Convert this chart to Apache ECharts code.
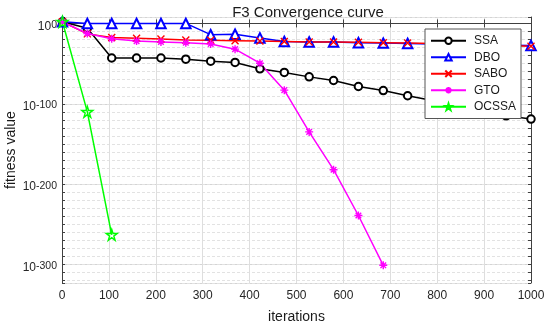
<!DOCTYPE html>
<html>
<head>
<meta charset="utf-8">
<script src="https://cdn.jsdelivr.net/npm/echarts@6/dist/echarts.min.js"></script>
<style>
html,body{margin:0;padding:0;background:#fff;}
#chart{width:550px;height:328px;}
</style>
</head>
<body>
<div id="chart"></div>
<script>
// iteration at which each marker/point is plotted
var iterations = [1, 54, 106, 159, 211, 264, 317, 369, 422, 474, 527, 579, 632, 685, 737, 790, 842, 895, 947, 1000];
// log10 of fitness value
var ssaLog10   = [2, -6, -43, -43, -43, -44.5, -47, -48.5, -56.5, -61, -66.5, -71, -78.5, -83.5, -90, -96, -102, -109, -115, -119];
var dboLog10   = [2, 0, 0, 0, 0, 0, -14, -13.5, -18, -22.5, -23, -23, -24, -24.5, -25, -25.5, -26, -26.5, -27, -27.5];
var saboLog10  = [2, -13, -17.5, -18.5, -19.5, -20.5, -21, -21.5, -22, -22.5, -23, -23, -23.5, -24, -24.5, -25, -26, -26.5, -27.5, -28.5];
var gtoLog10   = [2, -12.5, -19, -22, -23, -24, -25.5, -32, -49.5, -83, -135, -182, -239, -301];
var ocssaLog10 = [2, -110, -263];
var seriesNames = ['SSA', 'DBO', 'SABO', 'GTO', 'OCSSA'];
var xTicks = [0, 100, 200, 300, 400, 500, 600, 700, 800, 900, 1000];
var yMajorExponents = [-300, -200, -100, 0];

function pairs(vals) {
  return vals.map(function (v, i) { return [iterations[i], v]; });
}

var pathCross = 'path://M0,0L10,10M10,0L0,10';
var pathAsterisk = 'path://M5,0L5,10M0,5L10,5M1.5,1.5L8.5,8.5M8.5,1.5L1.5,8.5';
var pathStar = 'path://M10,0L12.245,6.91L19.51,6.91L13.633,11.18L15.88,18.09L10,13.82L4.12,18.09L6.367,11.18L0.49,6.91L7.755,6.91Z';

var FONT = '"Liberation Sans", Arial, Helvetica, sans-serif';
var AX = '#404040';
var yMin = -323, yMax = 8;

function mkSeries(name, vals, color, symbol, size, empty) {
  return {
    name: name, type: 'line', data: pairs(vals), yAxisIndex: 0,
    symbol: symbol, symbolSize: size, showAllSymbol: true,
    lineStyle: { color: color, width: 1.5 },
    itemStyle: empty ? { color: color, borderColor: color, borderWidth: 1.2 }
                     : { color: 'rgba(0,0,0,0)', borderColor: color, borderWidth: 1.4 },
    emphasis: { disabled: true }
  };
}

var chart = echarts.init(document.getElementById('chart'), null, { renderer: 'canvas' });
chart.setOption({
  animation: false,
  backgroundColor: '#fff',
  textStyle: { fontFamily: FONT },
  title: {
    text: 'F3 Convergence curve', left: 303, top: 0, textAlign: 'center',
    textStyle: { fontSize: 15, fontWeight: 'normal', color: '#1a1a1a', fontFamily: FONT }
  },
  grid: { left: 62, right: 19, top: 17, bottom: 45, containLabel: false, outerBoundsMode: 'none' },
  legend: {
    data: seriesNames, orient: 'vertical', left: 425, top: 29,
    itemWidth: 35, itemHeight: 8, itemGap: 3,
    padding: [5, 5, 5, 5],
    backgroundColor: '#fff', borderColor: '#555', borderWidth: 1,
    textStyle: { fontSize: 12, lineHeight: 13.5, color: '#1a1a1a', fontFamily: FONT, padding: [0, 0, 0, 3] },
    selectedMode: false
  },
  xAxis: [{
    type: 'value', min: 0, max: 1000, interval: 100, position: 'bottom',
    name: 'iterations', nameLocation: 'middle', nameGap: 27, nameMoveOverlap: false,
    nameTextStyle: { fontSize: 14, color: '#1a1a1a', fontFamily: FONT },
    axisLine: { show: true, lineStyle: { color: AX, width: 1 } },
    axisTick: { show: true, inside: true, length: 4, lineStyle: { color: AX } },
    axisLabel: { fontSize: 12, color: '#262626', margin: 7, fontFamily: FONT,
      formatter: function (v) { return xTicks.indexOf(v) >= 0 ? String(v) : ''; } },
    splitLine: { show: true, lineStyle: { color: '#dedede', width: 1 } }
  }, {
    type: 'value', min: 0, max: 1000, interval: 100, position: 'top',
    axisLine: { show: true, lineStyle: { color: AX, width: 1 } },
    axisTick: { show: true, inside: true, length: 4, lineStyle: { color: AX } },
    axisLabel: { show: false }, splitLine: { show: false }
  }],
  yAxis: [{
    type: 'value', min: yMin, max: yMax, minInterval: 100, maxInterval: 100, splitNumber: 3,
    position: 'left', offset: 0,
    name: 'fitness value', nameLocation: 'middle', nameGap: 44, nameMoveOverlap: false,
    nameTextStyle: { fontSize: 14, color: '#1a1a1a', fontFamily: FONT },
    axisLine: { show: true, lineStyle: { color: AX, width: 1 } },
    axisTick: { show: false },
    axisLabel: {
      margin: 5, color: '#262626', fontFamily: FONT,
      formatter: function (v) {
        return yMajorExponents.indexOf(v) >= 0 ? '{b|10}{s|' + v + '}' : '';
      },
      rich: {
        b: { fontSize: 12, lineHeight: 14, padding: [6, 0, 0, 0], color: '#262626', fontFamily: FONT },
        s: { fontSize: 10.5, lineHeight: 10, padding: [3, 0, 0, 0], verticalAlign: 'top', color: '#262626', fontFamily: FONT }
      }
    },
    splitLine: { show: true, lineStyle: { color: '#d4d4d4', width: 1 } }
  }, {
    type: 'value', min: yMin, max: yMax, minInterval: 10, maxInterval: 10, splitNumber: 33,
    position: 'left', offset: 0,
    axisLine: { show: false },
    axisTick: { show: true, inside: true, length: 3, lineStyle: { color: AX } },
    axisLabel: { show: false },
    splitLine: { show: true, lineStyle: { color: '#e2e2e2', width: 1, type: [3, 2] } }
  }, {
    type: 'value', min: yMin, max: yMax, minInterval: 10, maxInterval: 10, splitNumber: 33,
    position: 'right', offset: 0,
    axisLine: { show: true, lineStyle: { color: AX, width: 1 } },
    axisTick: { show: true, inside: true, length: 3, lineStyle: { color: AX } },
    axisLabel: { show: false },
    splitLine: { show: false }
  }],
  series: [
    mkSeries('SSA', ssaLog10, '#000000', 'emptyCircle', 7.5, true),
    mkSeries('DBO', dboLog10, '#0000ff', 'emptyTriangle', 9.5, true),
    mkSeries('SABO', saboLog10, '#ff0000', pathCross, 7, false),
    mkSeries('GTO', gtoLog10, '#ff00ff', pathAsterisk, 8, false),
    mkSeries('OCSSA', ocssaLog10, '#00ff00', pathStar, 11, false)
  ]
});
</script>
</body>
</html>
